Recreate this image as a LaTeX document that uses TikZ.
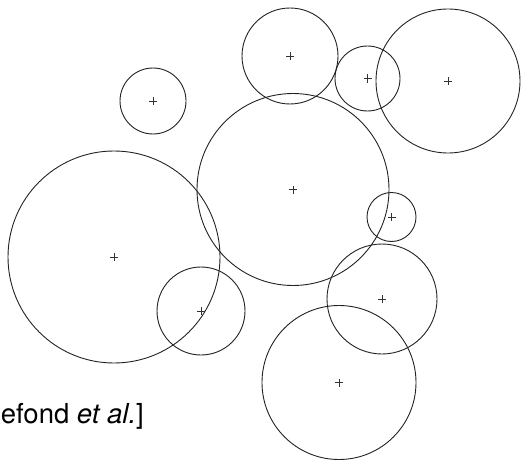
\documentclass[tikz,border=0pt]{standalone}
\usepackage{fontspec}
\setsansfont{TeX Gyre Heros}
\usepackage{tikz}
\usetikzlibrary{
  arrows.meta,
  positioning,
  calc
}
\definecolor{dkLine}{HTML}{222222}
\definecolor{dkMark}{HTML}{333333}
\tikzset{
  ring/.style={
    draw=dkLine, circle, line width=0.9pt, inner sep=0pt, outer sep=0pt
  },
  ctrline/.style={draw=dkMark, line width=0.55pt},
  cite/.style={font=\sffamily\fontsize{27.5}{32}\selectfont, inner sep=0pt}
}
\begin{document}
\begin{tikzpicture}[x=1pt, y=-1pt]
  \useasboundingbox (0,0) rectangle (522,460);
  % circles: x / y / radius / name
  \foreach \cx/\cy/\rr/\nm in {
      153/101/33/cA, 290/56/48/cB, 367.5/78.5/32.5/cC, 448/81/72/cD,
      293/189.5/96/cE, 391.5/217/24.5/cF, 114/257/106/cG,
      201/311/44/cH, 382/299/55/cI, 339/382.5/77/cJ} {
    \node[ring, minimum size=2*\rr pt] (\nm) at (\cx,\cy) {};
    \draw[ctrline] ([xshift=-4pt]\nm.center) -- ([xshift=4pt]\nm.center);
    \draw[ctrline] ([yshift=-4pt]\nm.center) -- ([yshift=4pt]\nm.center);
  }
  \node[cite, anchor=base east] (ref) at (144,423) {efond \textit{et al.}]};
\end{tikzpicture}
\end{document}
